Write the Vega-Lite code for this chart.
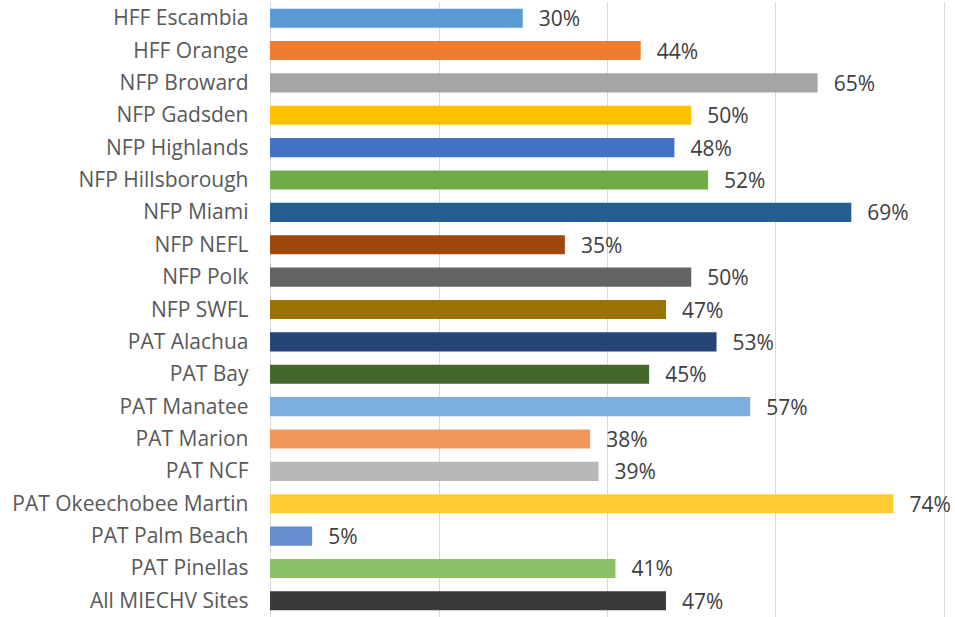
{
  "$schema": "https://vega.github.io/schema/vega-lite/v6.json",
  "width": 674,
  "height": 615,
  "autosize": {"type": "none"},
  "padding": {"left": 270, "top": 2, "right": 11, "bottom": 0},
  "background": "white",
  "config": {"view": {"stroke": null}, "font": "Open Sans"},
  "data": {
    "values": [
      {"site": "HFF Escambia", "value": 0.30, "color": "#5B9BD5"},
      {"site": "HFF Orange", "value": 0.44, "color": "#ED7D31"},
      {"site": "NFP Broward", "value": 0.65, "color": "#A5A5A5"},
      {"site": "NFP Gadsden", "value": 0.50, "color": "#FFC000"},
      {"site": "NFP Highlands", "value": 0.48, "color": "#4472C4"},
      {"site": "NFP Hillsborough", "value": 0.52, "color": "#70AD47"},
      {"site": "NFP Miami", "value": 0.69, "color": "#255E91"},
      {"site": "NFP NEFL", "value": 0.35, "color": "#9E480E"},
      {"site": "NFP Polk", "value": 0.50, "color": "#636363"},
      {"site": "NFP SWFL", "value": 0.47, "color": "#997300"},
      {"site": "PAT Alachua", "value": 0.53, "color": "#264478"},
      {"site": "PAT Bay", "value": 0.45, "color": "#43682B"},
      {"site": "PAT Manatee", "value": 0.57, "color": "#7CAFDD"},
      {"site": "PAT Marion", "value": 0.38, "color": "#F1975A"},
      {"site": "PAT NCF", "value": 0.39, "color": "#B7B7B7"},
      {"site": "PAT Okeechobee Martin", "value": 0.74, "color": "#FFCD33"},
      {"site": "PAT Palm Beach", "value": 0.05, "color": "#698ED0"},
      {"site": "PAT Pinellas", "value": 0.41, "color": "#8CC168"},
      {"site": "All MIECHV Sites", "value": 0.47, "color": "#3A3A3A"}
    ]
  },
  "encoding": {
    "y": {
      "field": "site",
      "type": "nominal",
      "sort": null,
      "scale": {"paddingInner": 0.41, "paddingOuter": 0.205},
      "axis": {
        "title": null,
        "ticks": false,
        "domain": true,
        "domainColor": "#D9D9D9",
        "domainWidth": 1,
        "labelFontSize": 21,
        "labelColor": "#595959",
        "labelPadding": 22,
        "labelOffset": 1,
        "labelLimit": 0,
        "labelFont": "Open Sans"
      }
    },
    "x": {
      "field": "value",
      "type": "quantitative",
      "scale": {"domain": [0, 0.8], "nice": false},
      "axis": {
        "title": null,
        "labels": false,
        "ticks": false,
        "domain": false,
        "values": [0, 0.2, 0.4, 0.6, 0.8],
        "grid": true,
        "gridColor": "#D9D9D9",
        "gridWidth": 1
      }
    }
  },
  "layer": [
    {
      "mark": {"type": "bar"},
      "encoding": {
        "color": {"field": "color", "type": "nominal", "scale": null, "legend": null}
      }
    },
    {
      "mark": {"type": "text", "align": "left", "dx": 16, "dy": 2, "fontSize": 21, "color": "#404040", "font": "Open Sans"},
      "encoding": {
        "text": {"field": "value", "type": "quantitative", "format": ".0%"}
      }
    }
  ]
}
